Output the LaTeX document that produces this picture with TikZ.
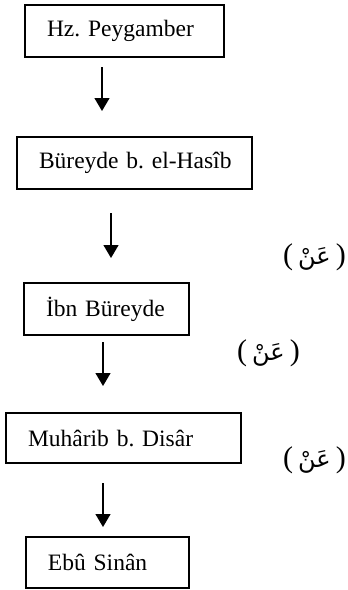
\documentclass[tikz,border=0pt]{standalone}
\usepackage{fontspec}
\setmainfont{Liberation Serif}
\newfontfamily\arabicfont[Script=Arabic,Scale=0.8]{DejaVu Sans}
\TeXXeTstate=1
\usetikzlibrary{arrows.meta}

\begin{document}
\begin{tikzpicture}[x=1pt, y=-1pt,
  namebox/.style={draw, line width=1.2pt, inner xsep=22pt, inner ysep=0pt,
    minimum height=52pt, align=left, font=\fontsize{23.5}{28}\selectfont\frenchspacing},
  down/.style={line width=1.3pt, -{Triangle[length=13pt, width=15pt]}},
  an/.style={inner sep=0pt, anchor=east, font=\fontsize{30}{34}\selectfont}
]
\useasboundingbox (0,0) rectangle (348,590);

\node[namebox, text width=155pt] (peygamber) at (124.5, 31) {\mbox{Hz. Peygamber}};
\node[namebox, text width=191pt] (bureyde) at (134.5, 163) {\mbox{Büreyde b. el-Hasîb}};
\node[namebox, text width=121pt] (ibnbureyde) at (106.5, 309) {\mbox{İbn Büreyde}};
\node[namebox, text width=191pt, minimum height=50pt] (muharib) at (123.5, 438) {\mbox{Muhârib b. Disâr}};
\node[namebox, text width=119pt, minimum height=51pt] (ebusinan) at (107.5, 562.5) {\mbox{Ebû Sinân}};

\coordinate (a1) at (102, 67);
\coordinate (b1) at (102, 111);
\coordinate (a2) at (111, 213);
\coordinate (b2) at (111, 258);
\coordinate (a3) at (103, 342);
\coordinate (b3) at (103, 386);
\coordinate (a4) at (103, 483);
\coordinate (b4) at (103, 527);
\draw[down] (a1) -- (b1);
\draw[down] (a2) -- (b2);
\draw[down] (a3) -- (b3);
\draw[down] (a4) -- (b4);

\node[an] (an1) at (346, 257) {(\,{\arabicfont\beginR عَنْ\endR}\,)};
\node[an] (an2) at (300, 353) {(\,{\arabicfont\beginR عَنْ\endR}\,)};
\node[an] (an3) at (346, 460) {(\,{\arabicfont\beginR عَنْ\endR}\,)};

\end{tikzpicture}
\end{document}
